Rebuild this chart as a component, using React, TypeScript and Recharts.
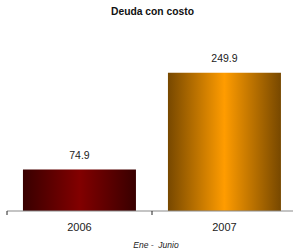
import { Bar, BarChart, Cell, LabelList, XAxis, YAxis } from 'recharts'

const years = ['2006', '2007']
const debt = [74.9, 249.9]
const barColors = [
  { id: 'gradMaroon', edge: '#380000', mid: '#820000' },
  { id: 'gradOrange', edge: '#774800', mid: '#ff9c00' },
]

const data = years.map((year, i) => ({ year, debt: debt[i] }))

const CHART_W = 300
const MARGIN_L = 7
const MARGIN_R = 3
const HALF_BAND = (CHART_W - MARGIN_L - MARGIN_R) / years.length / 2

function YearTick(props: any) {
  const { x, y, payload } = props
  return (
    <g>
      <line x1={x - HALF_BAND} y1={y} x2={x - HALF_BAND} y2={y + 4} stroke="#222" strokeWidth={1} />
      <text x={x} y={y + 20} textAnchor="middle" fontSize={11} fill="#222" fontFamily="Liberation Sans, Arial, sans-serif">
        {payload.value}
      </text>
    </g>
  )
}

export default function App() {
  return (
    <div
      style={{
        position: 'absolute',
        left: 0,
        top: 0,
        width: 293,
        height: 250,
        overflow: 'hidden',
        background: '#fff',
        fontFamily: 'Liberation Sans, Arial, sans-serif',
      }}
    >
      <div
        style={{
          position: 'absolute',
          top: 6,
          left: 10,
          width: 285,
          textAlign: 'center',
          fontSize: 10.3,
          fontWeight: 'bold',
          color: '#111',
        }}
      >
        Deuda con costo
      </div>
      <BarChart
        width={CHART_W}
        height={250}
        data={data}
        margin={{ top: 45, right: MARGIN_R, bottom: 0, left: MARGIN_L }}
        barCategoryGap="11%"
      >
        <defs>
          {barColors.map((c) => (
            <linearGradient key={c.id} id={c.id} x1="0" y1="0" x2="1" y2="0">
              <stop offset="0%" stopColor={c.edge} />
              <stop offset="50%" stopColor={c.mid} />
              <stop offset="100%" stopColor={c.edge} />
            </linearGradient>
          ))}
        </defs>
        <XAxis
          dataKey="year"
          height={39}
          tickLine={false}
          tickSize={0}
          tickMargin={0}
          axisLine={{ stroke: '#8a8a8a', strokeWidth: 1.2 }}
          tick={<YearTick />}
          interval={0}
        />
        <YAxis hide domain={[0, 300]} />
        <Bar dataKey="debt" isAnimationActive={false}>
          {data.map((d, i) => (
            <Cell key={d.year} fill={`url(#${barColors[i].id})`} />
          ))}
          <LabelList
            dataKey="debt"
            position="top"
            offset={11}
            fontSize={10.5}
            fill="#222"
            fontFamily="Liberation Sans, Arial, sans-serif"
            formatter={(v: any) => Number(v).toFixed(1)}
          />
        </Bar>
      </BarChart>
      <div
        style={{
          position: 'absolute',
          top: 240,
          left: 100,
          width: 112,
          textAlign: 'center',
          fontSize: 8.5,
          fontStyle: 'italic',
          whiteSpace: 'pre',
          color: '#222',
        }}
      >
        {'Ene -  Junio'}
      </div>
    </div>
  )
}
